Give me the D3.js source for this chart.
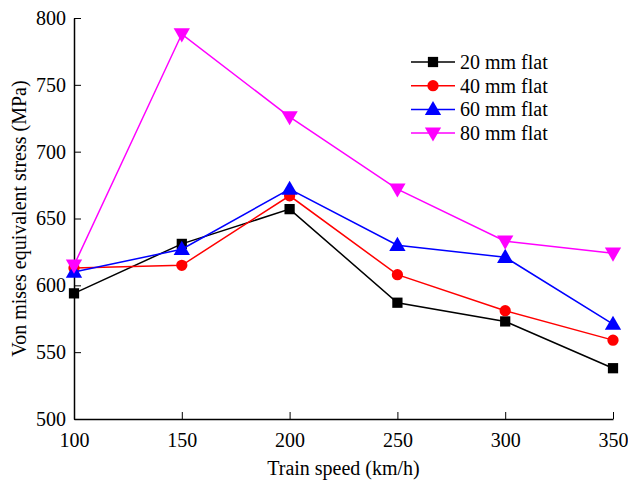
<!DOCTYPE html>
<html>
<head>
<meta charset="utf-8">
<script src="https://cdn.jsdelivr.net/npm/d3@7"></script>
<style>
body { margin: 0; background: #fff; }
text { font-family: "Liberation Serif", "Times New Roman", serif; fill: #000; }
</style>
</head>
<body>
<div class="chart"></div>
<script>
// data
const speeds = [100, 150, 200, 250, 300, 350]
const flat20 = [594, 631, 657, 587, 573, 538]
const flat40 = [613, 615, 667, 608, 581, 559]
const flat60 = [610, 627, 672, 630, 621, 571]
const flat80 = [615, 788, 726, 672, 633, 624]
const seriesNames = ["20 mm flat", "40 mm flat", "60 mm flat", "80 mm flat"]
const xTicks = [100, 150, 200, 250, 300, 350]
const yTicks = [500, 550, 600, 650, 700, 750, 800]

const colours = ["#000000", "#ff0000", "#0000ff", "#ff00ff"]
const symbols = [d3.symbolSquare, d3.symbolCircle, d3.symbolTriangle, d3.symbolTriangle]
const symSizes = [105, 100, 115, 115]
const flips = [false, false, false, true]

const series = [flat20, flat40, flat60, flat80].map((vals, i) => ({
  name: seriesNames[i],
  values: vals.map((v, j) => ({x: speeds[j], y: v}))
}))

const svg = d3.select(".chart").append("svg").attr("width", 628).attr("height", 484)
const margin = {top: 18, right: 15, bottom: 65, left: 74}
const width = 628 - margin.left - margin.right
const height = 484 - margin.top - margin.bottom

const x = d3.scaleLinear().domain([100, 350]).range([margin.left, margin.left + width])
const y = d3.scaleLinear().domain([500, 800]).range([margin.top + height, margin.top])

// axes, ticks pointing inward
svg.append("g").attr("transform", `translate(0,${margin.top + height})`)
  .call(d3.axisBottom(x).tickValues(xTicks).tickSizeInner(-7).tickSizeOuter(0).tickPadding(14))
svg.append("g").attr("transform", `translate(${margin.left},0)`)
  .call(d3.axisLeft(y).tickValues(yTicks).tickSizeInner(-7).tickSizeOuter(0).tickPadding(8))
svg.selectAll(".domain").attr("stroke", "#000").attr("stroke-width", 1.5)
svg.selectAll(".tick line").attr("stroke", "#000").attr("stroke-width", 1)
svg.selectAll(".tick text").style("font-family", "Liberation Serif").style("font-size", "20px").attr("fill", "#000")

// axis titles
svg.append("text").attr("x", margin.left + width / 2).attr("y", 475)
  .attr("text-anchor", "middle").style("font-size", "20px").text("Train speed (km/h)")
svg.append("text").attr("transform", `translate(26,${margin.top + height / 2}) rotate(-90)`)
  .attr("text-anchor", "middle").style("font-size", "20px").text("Von mises equivalent stress (MPa)")

const line = d3.line().x(d => x(d.x)).y(d => y(d.y))

series.forEach((s, i) => {
  svg.append("path").datum(s.values).attr("d", line)
    .attr("fill", "none").attr("stroke", colours[i]).attr("stroke-width", 1.5)
  const sym = d3.symbol().type(symbols[i]).size(symSizes[i])
  svg.selectAll(".m" + i).data(s.values).enter().append("path")
    .attr("d", sym)
    .attr("transform", d => `translate(${x(d.x)},${y(d.y) + (i >= 2 ? (flips[i] ? -1 : 1) : 0)})` + (flips[i] ? " rotate(180)" : ""))
    .attr("fill", colours[i])
})

// legend
const legend = svg.selectAll(".legend").data(series).enter().append("g")
  .attr("transform", (d, i) => `translate(411,${62 + i * 23.7})`)
legend.append("line").attr("x1", 0).attr("x2", 44).attr("y1", 0).attr("y2", 0)
  .attr("stroke", (d, i) => colours[i]).attr("stroke-width", 1.5)
legend.append("path")
  .attr("d", (d, i) => d3.symbol().type(symbols[i]).size(symSizes[i])())
  .attr("transform", (d, i) => `translate(22,${i >= 2 ? (flips[i] ? -1 : 1) : 0})` + (flips[i] ? " rotate(180)" : ""))
  .attr("fill", (d, i) => colours[i])
legend.append("text").attr("x", 49).attr("y", 7).style("font-size", "20px").text(d => d.name)
</script>
</body>
</html>
